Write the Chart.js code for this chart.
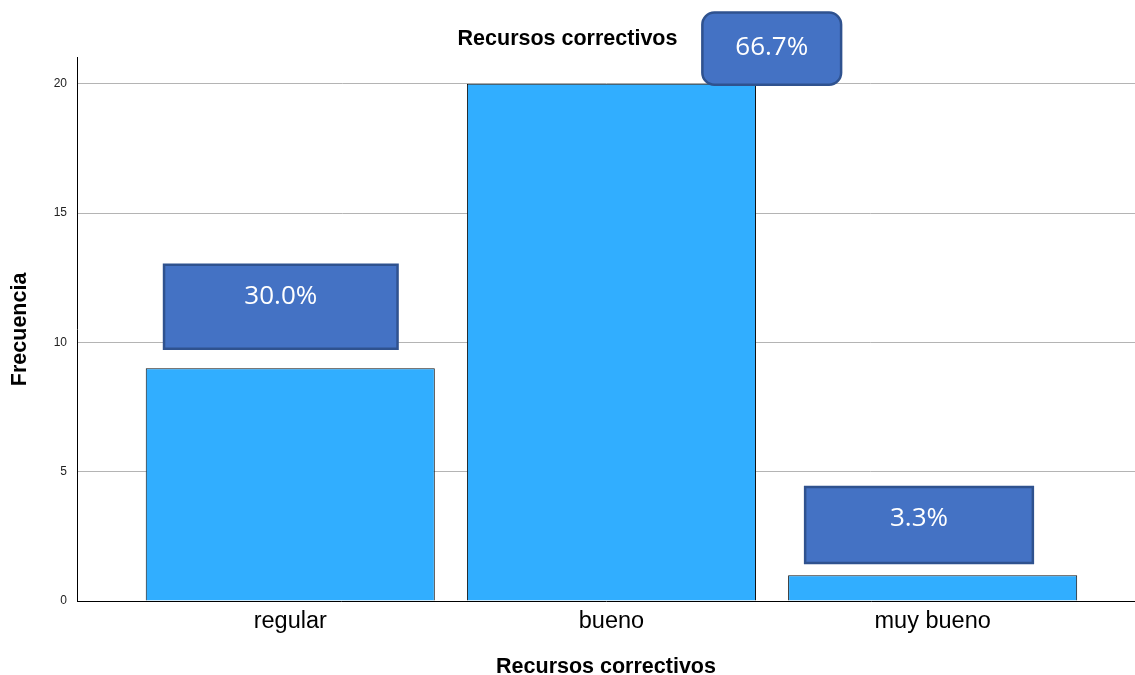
<!DOCTYPE html>
<html>
<head>
<meta charset="utf-8">
<script src="https://cdn.jsdelivr.net/npm/chart.js@4/dist/chart.umd.min.js"></script>
<style>
    html, body { margin: 0; padding: 0; background: #fff; }
    #wrap { width: 1135px; height: 675px; }
</style>
</head>
<body>
<div id="wrap"><canvas id="myChart"></canvas></div>
<script>
// data
var categories = ["regular", "bueno", "muy bueno"];
var frecuencia = [9, 20, 1];
var yTicks = [0, 5, 10, 15, 20];

var total = frecuencia.reduce(function (a, b) { return a + b; }, 0);

// callout boxes (in axis units): x from/to, y top/bottom, rounded or not
var callouts = [
    { x0: -0.393, x1: 0.334, yTop: 13.0, yBot: 9.75, round: 0, textDy: 32 },
    { x0: 1.283, x1: 1.715, yTop: 22.75, yBot: 19.96, round: 12, textDy: 35 },
    { x0: 1.603, x1: 2.312, yTop: 4.41, yBot: 1.47, round: 0, textDy: 32 }
];

var calloutPlugin = {
    id: 'callouts',
    afterDatasetsDraw: function (chart) {
        var ctx = chart.ctx;
        var xs = chart.scales.x, ys = chart.scales.y;
        ctx.save();
        callouts.forEach(function (c, i) {
            var l = xs.getPixelForValue(c.x0), r = xs.getPixelForValue(c.x1);
            var t = ys.getPixelForValue(c.yTop), b = ys.getPixelForValue(c.yBot);
            ctx.beginPath();
            if (c.round) {
                ctx.roundRect(l, t, r - l, b - t, c.round);
            } else {
                ctx.rect(l, t, r - l, b - t);
            }
            ctx.fillStyle = '#4472C4';
            ctx.fill();
            ctx.lineWidth = 2.5;
            ctx.strokeStyle = '#2F528F';
            ctx.stroke();
            var pct = (frecuencia[i] / total * 100).toFixed(1) + '%';
            ctx.fillStyle = '#ffffff';
            ctx.font = '26px "Open Sans"';
            ctx.textAlign = 'center';
            ctx.textBaseline = 'middle';
            ctx.fillText(pct, (l + r) / 2, t + c.textDy);
        });
        ctx.restore();
    }
};

var ctx = document.getElementById('myChart').getContext('2d');
var chart = new Chart(ctx, {
    type: 'bar',
    data: {
        datasets: [{
            label: "Frecuencia",
            data: frecuencia.map(function (v, i) { return { x: i, y: v }; }),
            backgroundColor: '#31AEFF',
            borderColor: '#111111',
            borderWidth: 1,
            barPercentage: 0.9,
            categoryPercentage: 1.0
        }]
    },
    plugins: [calloutPlugin],
    options: {
        responsive: true,
        maintainAspectRatio: false,
        animation: false,
        layout: { padding: 0 },
        plugins: {
            legend: { display: false },
            tooltip: { enabled: false },
            title: {
                display: true,
                text: "Recursos correctivos",
                color: '#000',
                font: { family: 'Liberation Sans', size: 21.5, weight: 'bold' },
                padding: { top: 26, bottom: 6 }
            }
        },
        scales: {
            x: {
                type: 'linear',
                offset: false,
                min: -0.664,
                max: 2.63,
                afterFit: function (scale) { scale.height = 74; },
                grid: { display: false, drawTicks: false },
                border: { display: true, color: '#000', width: 1 },
                ticks: {
                    stepSize: 1,
                    includeBounds: false,
                    padding: 6,
                    color: '#000',
                    font: { family: 'Liberation Sans', size: 23.5 },
                    maxRotation: 0,
                    callback: function (value) {
                        return categories[value] !== undefined ? categories[value] : '';
                    }
                },
                title: {
                    display: true,
                    text: "Recursos correctivos",
                    color: '#000',
                    font: { family: 'Liberation Sans', size: 21.5, weight: 'bold' },
                    padding: { top: 10, bottom: -5 }
                }
            },
            y: {
                min: 0,
                max: 21,
                afterFit: function (scale) { scale.width = 77; },
                afterBuildTicks: function (scale) {
                    scale.ticks = yTicks.map(function (v) { return { value: v }; });
                },
                grid: {
                    drawTicks: false,
                    color: function (c) { return c.tick && c.tick.value === 0 ? 'rgba(0,0,0,0)' : '#b4b4b4'; },
                    lineWidth: 1
                },
                border: { display: true, color: '#000', width: 1 },
                ticks: {
                    padding: 10,
                    color: '#222',
                    font: { family: 'Liberation Sans', size: 12 }
                },
                title: {
                    display: true,
                    text: "Frecuencia",
                    color: '#000',
                    font: { family: 'Liberation Sans', size: 21.5, weight: 'bold' },
                    padding: { top: 7, bottom: 0 }
                }
            }
        }
    }
});
</script>
</body>
</html>
